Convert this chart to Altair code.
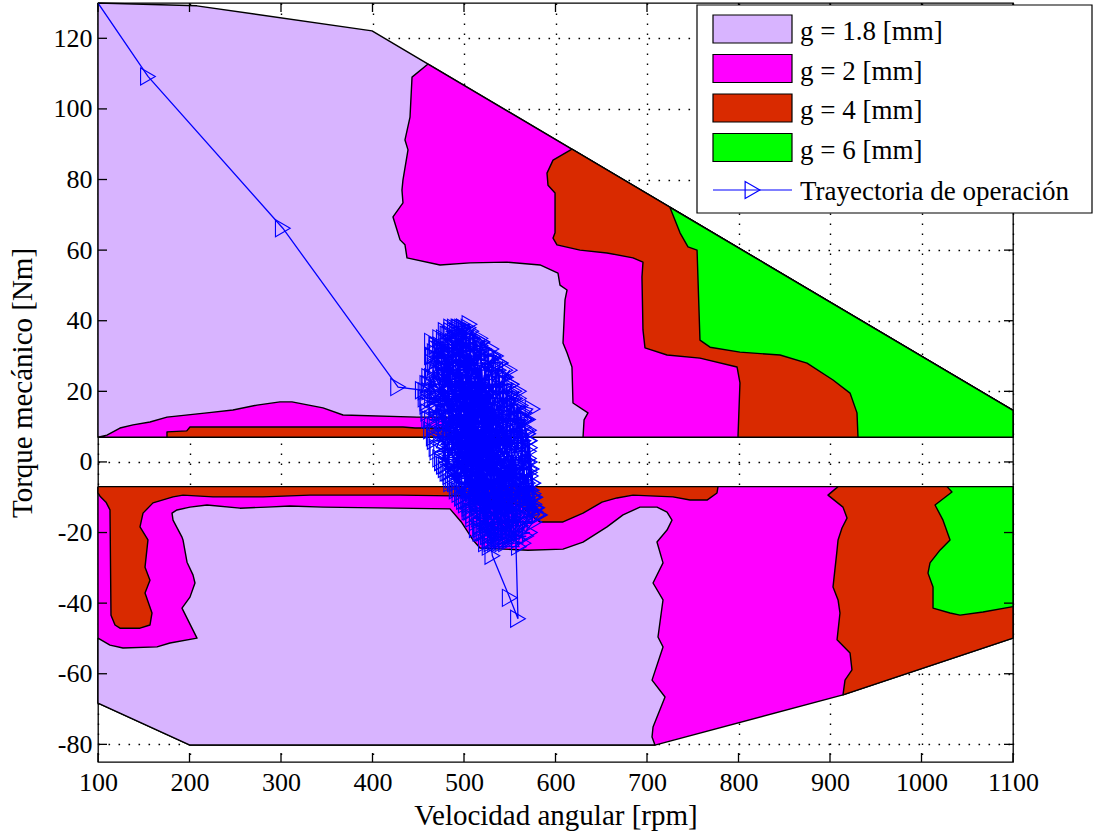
import altair as alt
import pandas as pd

# ---------------- axis ticks ----------------
X_TICKS = [100, 200, 300, 400, 500, 600, 700, 800, 900, 1000, 1100]
Y_TICKS = [-80, -60, -40, -20, 0, 20, 40, 60, 80, 100, 120]

# ---------------- operating regions (rpm, Nm) ----------------
# positive torque half
LAV_UP_X = [100, 208, 399.5, 1100, 1100, 100]
LAV_UP_Y = [130, 129.2, 122.1, 14.6, 7, 7]

MAG_UP_X = [460.7, 443.2, 441.0, 435.5, 438.8, 433.3, 432.2, 433.3, 422.4, 426.8,
            430.1, 435.5, 437.7, 473.8, 506.6, 547.0, 583.1, 602.7, 604.9, 612.6,
            610.4, 608.2, 612.6, 618.0, 619.1, 635.5, 631.2, 630.1, 1100, 1100]
MAG_UP_Y = [112.7, 109.0, 97.7, 91.2, 88.4, 79.9, 77.0, 73.4, 69.4, 65.7,
            62.9, 61.5, 57.8, 55.8, 56.4, 56.6, 55.8, 53.5, 50.1, 48.7,
            45.9, 33.7, 30.9, 26.9, 16.7, 13.9, 11.9, 7, 7, 14.6]

MAG_STRIP_X = [100, 109.8, 124.0, 138.3, 156.8, 175.4, 219.1, 247.5, 273.8, 298.9,
               312.0, 345.9, 367.8, 448.6, 484.7, 484.7]
MAG_STRIP_Y = [7, 7.6, 9.6, 10.5, 11.3, 12.7, 13.9, 14.7, 16.1, 17.0,
               17.0, 15.3, 13.3, 12.7, 12.7, 7]

RED_STRIP_X = [175.4, 175.4, 197.0, 200.5, 433.3, 446.5, 484.7, 484.7]
RED_STRIP_Y = [7, 8.5, 8.8, 9.9, 9.9, 9.6, 9.6, 7]

RED_UP_X = [618.0, 597.3, 590.7, 591.8, 599.5, 599.5, 597.3, 601.6, 626.8, 656.3,
            684.7, 695.6, 694.5, 695.6, 697.8, 721.9, 757.9, 798.4, 801.6, 799.5,
            799.5, 1100, 1100]
RED_UP_Y = [88.6, 85.5, 81.8, 78.4, 76.2, 64.9, 63.4, 61.5, 60.0, 59.2,
            57.8, 56.6, 52.4, 37.4, 32.3, 30.3, 29.4, 26.9, 22.4, 7.6,
            7, 7, 14.6]

GRN_UP_X = [725.1, 736.1, 744.8, 754.7, 757.9, 768.9, 801.6, 845.4, 874.9, 903.3,
            921.9, 929.5, 930.6, 1100, 1100]
GRN_UP_Y = [72.1, 64.9, 60.9, 60.0, 34.5, 32.5, 31.1, 30.3, 28.0, 23.2,
            19.5, 13.9, 7, 7, 14.6]

# negative torque half
LOW_ENV_X = [100, 1100, 1100, 914.2, 708.7, 200.5, 100]
LOW_ENV_Y = [-7, -7, -49.9, -66.0, -80.2, -80.2, -68.3]

LAV_LOW_X = [100, 113.1, 127.3, 164.5, 178.7, 208.2, 191.8, 200.5, 206.0, 203.8,
             197.3, 192.9, 191.8, 182.0, 180.9, 186.3, 200.5, 219.1, 255.2, 284.7,
             309.8, 345.9, 484.7, 497.0, 509.8, 517.5, 569.9, 608.2, 630.1, 656.3,
             673.8, 692.3, 710.9, 721.9, 727.3, 721.9, 710.9, 717.5, 706.6, 717.5,
             712.0, 717.5, 705.5, 719.7, 706.6, 705.5, 708.7, 200.5, 100]
LAV_LOW_Y = [-49.9, -51.9, -52.7, -52.4, -51.3, -49.9, -41.4, -38.3, -34.3, -32.0,
             -28.4, -22.1, -21.3, -16.5, -14.5, -13.6, -12.8, -12.2, -13.1, -12.8,
             -12.5, -12.8, -13.3, -17.0, -22.1, -24.4, -25.0, -24.7, -22.7, -18.4,
             -15.0, -12.8, -12.8, -14.2, -16.5, -19.3, -22.7, -28.6, -34.3, -39.1,
             -49.6, -52.4, -61.8, -66.6, -75.1, -77.9, -80.2, -80.2, -68.3]

RED_LOW_X = [100, 100, 102.2, 108.7, 113.1, 114.2, 118.6, 124.0, 145.9, 156.8,
             159.0, 151.4, 156.8, 151.4, 154.6, 145.9, 149.2, 160.1, 182.0, 192.9,
             225.7, 280.3, 331.7, 430.1, 506.6, 561.2, 575.4, 583.1, 608.2, 630.1,
             650.8, 667.2, 684.7, 728.4, 747.0, 765.6, 776.5, 777.6]
RED_LOW_Y = [-7, -8.8, -9.7, -11.4, -13.6, -43.4, -46.2, -47.1, -47.1, -46.2,
             -42.8, -37.1, -33.5, -29.8, -22.1, -18.4, -14.5, -11.6, -9.9, -9.4,
             -9.9, -9.9, -9.4, -9.4, -9.7, -12.2, -15.6, -17.0, -17.0, -14.5,
             -11.4, -10.2, -9.4, -9.9, -10.8, -10.8, -8.8, -7]

RED_LOW_R_X = [908.8, 897.8, 914.2, 918.6, 913.1, 908.8, 907.7, 903.3, 908.8, 910.9,
               907.7, 921.9, 924.0, 916.4, 914.2, 1100, 1100]
RED_LOW_R_Y = [-7, -9.4, -12.8, -15.9, -18.7, -22.1, -25.0, -35.4, -39.1, -42.8,
               -50.4, -54.1, -58.9, -61.8, -66.0, -49.9, -7]

GRN_LOW_X = [1027.9, 1033.3, 1014.8, 1023.5, 1031.2, 1020.2, 1009.3, 1007.1, 1012.6, 1012.6,
             1031.2, 1042.1, 1067.2, 1100, 1100]
GRN_LOW_Y = [-7, -8.5, -12.2, -16.5, -22.1, -25.0, -28.6, -31.5, -35.4, -41.4,
             -42.8, -43.4, -42.5, -41.0, -7]

# ---------------- operating trajectory ----------------
TRAJ_X = [100, 154.6, 302, 428, 455,
          470, 520, 478, 540, 465, 512, 490, 548, 470, 530, 500, 560, 462, 515, 485,
          555, 475, 525, 495, 570, 505, 538, 468, 545, 482, 560, 495, 528, 472, 565,
          488, 550, 510, 532, 460, 520, 498, 572, 478, 545, 503, 575, 485, 540, 466,
          518, 492, 560, 508, 552, 480, 535, 500, 568, 474, 528, 490, 558, 508, 545,
          470, 530, 505, 578, 488, 542, 462, 512, 500, 565, 482, 525, 476, 550, 508,
          583, 492, 538, 468, 520, 506, 555, 485, 548, 474, 532, 494, 570, 510, 540,
          478, 525, 502, 562, 488, 535, 466, 516, 498, 556, 484, 528, 508, 573, 490,
          544, 465, 520, 531, 550, 559, 556, 540, 524, 548, 512,
          484, 540, 492, 552, 476, 528, 500, 566, 468, 522, 488, 546, 462, 514, 480,
          560, 472, 534, 496, 570,
          458, 555, 460, 566, 462, 570, 468, 571, 474, 572, 485, 574, 495, 577, 508,
          580, 514, 572, 524, 565, 520, 470, 545, 465, 532, 470, 515, 480, 505, 490,
          470, 480, 478, 490, 486, 498, 494, 506, 502, 514, 510, 522, 518, 530, 526,
          538, 534, 546, 542, 554, 550, 562, 558, 570, 566, 575, 571, 578, 572,
          470, 520, 480, 532, 492, 546, 504, 556, 516, 566, 528, 572, 540, 576, 552, 580,
          500, 470, 530, 490, 555, 510, 465, 545, 500, 520, 480, 560, 495, 535, 475,
          550, 505, 525, 515, 540, 498, 530, 485, 560, 510, 470, 545, 520, 490, 555,
          474, 484, 482, 494, 490, 502, 498, 510, 506, 518, 514, 526, 522, 534, 530,
          542, 538, 550, 546, 558, 554, 566, 562, 572, 568, 576,
          460, 552, 458, 560, 461, 568, 464, 571, 467, 572, 471, 571, 478, 573, 486,
          575, 492, 576, 502, 579, 510, 577, 518, 568, 528, 560, 466, 540, 468, 530,
          474, 518, 486, 506,
          465, 500, 476, 520, 488, 540, 498, 552, 506, 562, 518, 570, 530, 574, 546,
          578, 560, 582,
          510, 475, 540, 495, 560, 485, 525, 505, 550, 470, 535, 515, 545, 490, 520,
          500, 565, 480, 530, 510, 555, 495, 540, 505, 525, 485, 570, 515, 550, 500]
TRAJ_Y = [130, 109.2, 66.2, 21.2, 20.3,
          33, -5, 28, -12, 24, 2, 37, -15, 15, 10, 36, -8, 20, -12, 30,
          5, 5, 25, -2, 12, 33, -20, 10, 18, -3, -18, 38, -8, 29, 2,
          12, -22, 30, 0, 16, 22, -10, -3, 35, 8, -6, 15, 22, -5, 30,
          -18, 5, 20, -14, -10, 18, 30, 0, -12, 26, 14, -4, -2, 37, -18,
          8, 22, -8, -14, 28, 2, 22, 16, -11, 10, 34, -15, 0, 26, 4,
          -15, 18, -2, 18, 32, -12, 12, 8, -8, 32, -18, 24, 0, -4, 15,
          12, -10, 28, -15, -2, 8, 26, -6, 34, -4, 16, -22, 20, -8, 2,
          24, 34, -2, -26.6, -38.5, -44.4, -16, -10, 4, -20, 12,
          36, -18, 37, -14, 32, -20, 38, -10, 27, -16, 34, -6, 24, -14, 30,
          -16, 22, -22, 35, -6,
          20, 20, 17, 14, 12, 8, 6, 3, 1, -2, -4, -8, -9, -12, -14,
          -15, -19, -20, -23, -23, -20, 26, 26, 30, 30, 33, 34, 37, 38, 32,
          32, -2, 34, -6, 37, -10, 38, -13, 37, -17, 35, -20, 33, -22, 31,
          -23, 28, -22, 24, -20, 20, -18, 16, -14, 12, -10, 6, -13, 0,
          4, 34, -1, 30, -6, 24, -11, 18, -16, 12, -21, 4, -22, -6, -21, -13,
          20, 12, 5, 25, 0, -5, 18, 12, 30, -10, 10, 5, 15, -15, 22,
          15, 8, 20, 0, 10, -3, -8, 18, -10, 25, 16, -12, 12, 5, -16,
          33, -3, 36, -7, 38, -11, 38, -15, 36, -18, 34, -21, 32, -23, 29,
          -23, 26, -21, 22, -19, 18, -16, 14, -12, 9, -9,
          22, 22, 18, 18, 14, 12, 9, 9, 7, 6, 3, 1, -1, -4, -6,
          -6, -8, -10, -12, -13, -16, -17, -20, -21, -24, -24, 28, 28, 31, 32,
          35, 35, 38, 39,
          12, 38, 0, 34, -5, 28, -10, 22, -14, 16, -19, 8, -23, -2, -23,
          -10, -22, -15,
          10, 25, 0, 30, -5, 12, -18, 22, 5, 20, 18, -8, -20, 0, 28,
          -6, 6, 28, 12, -12, 10, 20, -15, 32, 2, 5, -8, 18, -10, 12]

# ---------------- legend ----------------
LEGEND_LABELS = ["g = 1.8 [mm]", "g = 2 [mm]", "g = 4 [mm]", "g = 6 [mm]",
                 "Trayectoria de operación"]
LAVENDER, MAGENTA, RED, GREEN, BLUE = "#d8b4ff", "#ff00ff", "#d92a00", "#00ff00", "#0000ff"
FILLS = [LAVENDER, MAGENTA, RED, GREEN]

# ---------------- layout ----------------
W, H = 915, 759
TICK = 9
FONT = "Liberation Serif"
HYPHEN = "replace(datum.label, '\u2212', '-')"

XS = alt.Scale(domain=[100, 1100], nice=False, zero=False)
YS = alt.Scale(domain=[-85, 130], nice=False, zero=False)

axis_common = dict(ticks=False, tickSize=0, domain=False, grid=True,
                   gridColor="black", gridDash=[1.6, 8.4], gridWidth=1.4, gridOpacity=1,
                   labelFont=FONT, labelFontSize=26, labelColor="black",
                   labelFlush=False, labelOverlap=False, format="d", labelExpr=HYPHEN,
                   titleFont=FONT, titleFontSize=29, titleFontWeight="normal",
                   titleColor="black")
x_axis = alt.Axis(values=X_TICKS, labelPadding=7, titlePadding=6, **axis_common)
y_axis = alt.Axis(values=Y_TICKS, labelPadding=6, titlePadding=16, **axis_common)

x_enc = alt.X("x:Q", scale=XS, axis=x_axis, title="Velocidad angular [rpm]")
y_enc = alt.Y("y:Q", scale=YS, axis=y_axis, title="Torque mecánico [Nm]")


def region(xs, ys, fill):
    """Closed filled polygon with a black contour."""
    df = pd.DataFrame({"x": list(xs) + [xs[0]], "y": list(ys) + [ys[0]]})
    df["k"] = range(len(df))
    return alt.Chart(df).mark_line(fill=fill, stroke="black", strokeWidth=1.4,
                                   strokeJoin="round").encode(x=x_enc, y=y_enc, order="k:Q")


layers = [
    region(LAV_UP_X, LAV_UP_Y, LAVENDER),
    region(MAG_UP_X, MAG_UP_Y, MAGENTA),
    region(MAG_STRIP_X, MAG_STRIP_Y, MAGENTA),
    region(RED_STRIP_X, RED_STRIP_Y, RED),
    region(RED_UP_X, RED_UP_Y, RED),
    region(GRN_UP_X, GRN_UP_Y, GREEN),
    region(LOW_ENV_X, LOW_ENV_Y, MAGENTA),
    region(LAV_LOW_X, LAV_LOW_Y, LAVENDER),
    region(RED_LOW_X, RED_LOW_Y, RED),
    region(RED_LOW_R_X, RED_LOW_R_Y, RED),
    region(GRN_LOW_X, GRN_LOW_Y, GREEN),
]

traj = pd.DataFrame({"x": TRAJ_X, "y": TRAJ_Y})
traj["k"] = range(len(traj))
traj_line = alt.Chart(traj).mark_line(color=BLUE, strokeWidth=1.3, clip=True).encode(
    x=x_enc, y=y_enc, order="k:Q")
traj_pts = alt.Chart(traj).transform_filter("datum.k > 0").mark_point(
    shape="triangle-right", size=290, filled=False, color=BLUE, strokeWidth=1.1,
    opacity=1, clip=True).encode(x=x_enc, y=y_enc)
layers += [traj_line, traj_pts]

# inward tick marks on all four sides
xt = pd.DataFrame({"x": X_TICKS})
yt = pd.DataFrame({"y": Y_TICKS})
tick_style = dict(color="black", strokeWidth=1.3)
layers += [
    alt.Chart(xt).mark_rule(**tick_style).encode(x=x_enc, y=alt.value(H), y2=alt.value(H - TICK)),
    alt.Chart(xt).mark_rule(**tick_style).encode(x=x_enc, y=alt.value(0), y2=alt.value(TICK)),
    alt.Chart(yt).mark_rule(**tick_style).encode(y=y_enc, x=alt.value(0), x2=alt.value(TICK)),
    alt.Chart(yt).mark_rule(**tick_style).encode(y=y_enc, x=alt.value(W), x2=alt.value(W - TICK)),
]

# legend box (pixel layout inside the view)
LEG_L, LEG_R, LEG_T, LEG_B = 599, 994, 2, 210
SW_L, SW_R, SW_H = 615, 694, 28
ROW0, ROW_STEP = 26, 39.5
TXT_X = 702

box = pd.DataFrame({"a": [LEG_L], "b": [LEG_R], "c": [LEG_T], "d": [LEG_B]})
layers.append(alt.Chart(box).mark_rect(fill="white", stroke="black", strokeWidth=1.2).encode(
    x=alt.X("a:Q", scale=None, axis=None), x2="b:Q",
    y=alt.Y("c:Q", scale=None, axis=None), y2="d:Q"))

sw = pd.DataFrame({"label": LEGEND_LABELS[:4], "fill": FILLS})
sw["row"] = range(4)
sw["yc"] = ROW0 + sw["row"] * ROW_STEP
sw["y0"] = sw["yc"] - SW_H / 2
sw["y1"] = sw["yc"] + SW_H / 2
sw["x0"] = SW_L
sw["x1"] = SW_R
layers.append(alt.Chart(sw).mark_rect(stroke="black", strokeWidth=1.2).encode(
    x=alt.X("x0:Q", scale=None, axis=None), x2="x1:Q",
    y=alt.Y("y0:Q", scale=None, axis=None), y2="y1:Q",
    fill=alt.Fill("fill:N", scale=None, legend=None)))

line_row = ROW0 + 4 * ROW_STEP + 3
ln = pd.DataFrame({"x0": [SW_L], "x1": [SW_R], "yc": [line_row], "xm": [(SW_L + SW_R) / 2]})
layers.append(alt.Chart(ln).mark_rule(color=BLUE, strokeWidth=1.2).encode(
    x=alt.X("x0:Q", scale=None, axis=None), x2="x1:Q",
    y=alt.Y("yc:Q", scale=None, axis=None)))
layers.append(alt.Chart(ln).mark_point(shape="triangle-right", size=290, filled=False,
                                       color=BLUE, strokeWidth=1.2, opacity=1).encode(
    x=alt.X("xm:Q", scale=None, axis=None), y=alt.Y("yc:Q", scale=None, axis=None)))

txt = pd.DataFrame({"label": LEGEND_LABELS, "row": range(5)})
txt["yc"] = ROW0 + txt["row"] * ROW_STEP + 3
txt.loc[4, "yc"] = line_row + 2
txt["tx"] = TXT_X
layers.append(alt.Chart(txt).mark_text(align="left", baseline="middle", font=FONT,
                                       fontSize=27, color="black").encode(
    x=alt.X("tx:Q", scale=None, axis=None), y=alt.Y("yc:Q", scale=None, axis=None),
    text="label:N"))

chart = alt.layer(*layers).properties(
    width=W, height=H,
    autosize=alt.AutoSizeParams(type="none"),
    padding={"left": 98, "top": 3, "right": 80, "bottom": 71},
    background="white",
).configure_view(stroke="black", strokeWidth=1.3)

chart.save("out.html", embed_options={"renderer": "svg", "actions": False})
